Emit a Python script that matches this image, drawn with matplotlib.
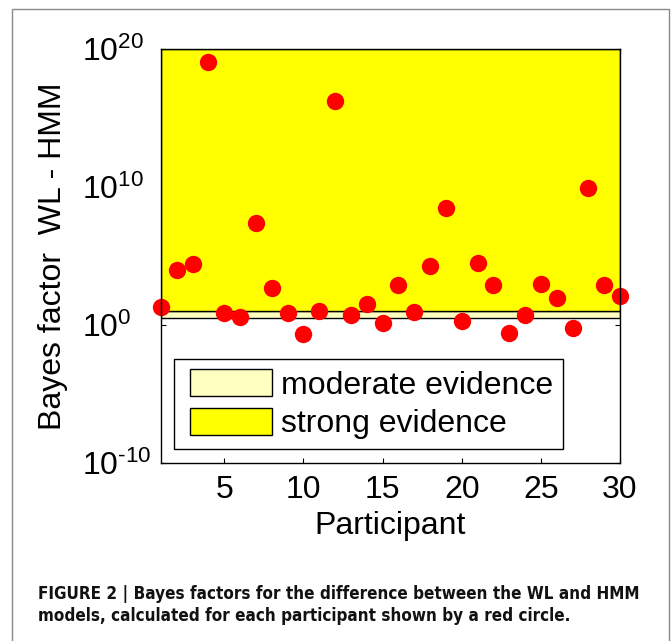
import numpy as np
import matplotlib
matplotlib.use("Agg")
import matplotlib.pyplot as plt
from matplotlib.patches import Patch, Rectangle
from matplotlib.legend_handler import HandlerPatch
from matplotlib import font_manager

# values (Bayes factor per participant)
participants = list(range(1, 31))
bayes_factor = [2.0e1, 1.0e4, 2.5e4, 1.1e19, 7.6, 3.4, 2.5e7, 4.5e2, 7.6, 0.23,
                10.5, 1.8e16, 4.8, 30.0, 1.4, 8.0e2, 8.9, 1.9e4, 2.8e8, 1.95,
                3.2e4, 7.1e2, 0.26, 5.1, 8.7e2, 93.0, 0.63, 7.9e9, 7.9e2, 1.26e2]

moderate_range = (3.0, 10.0)
strong_range = (10.0, 1e20)
yticks = [1e-10, 1e0, 1e10, 1e20]
ytick_labels = ["$10^{\u201010}$", r"$10^{0}$", r"$10^{10}$", r"$10^{20}$"]
xticks = [5, 10, 15, 20, 25, 30]
legend_labels = ["moderate evidence", "strong evidence"]
caption = ("FIGURE 2 | Bayes factors for the difference between the WL and HMM\n"
           "models, calculated for each participant shown by a red circle.")

# look for a condensed bold face for the caption
cap_font = None
for f in font_manager.fontManager.ttflist:
    nm = f.name.lower()
    if ("narrow" in nm or "condensed" in nm or "condensed" in str(f.stretch)) \
            and f.weight in ("bold", 700):
        cap_font = font_manager.FontProperties(fname=f.fname)
        break
if cap_font is None:
    cap_font = font_manager.FontProperties(family="Liberation Sans", weight="bold")

plt.rcParams["font.family"] = ["Liberation Sans", "DejaVu Sans"]
plt.rcParams["mathtext.fontset"] = "custom"
plt.rcParams["mathtext.rm"] = "Liberation Sans"
plt.rcParams["mathtext.it"] = "Liberation Sans"
plt.rcParams["mathtext.bf"] = "Liberation Sans"

fig = plt.figure(figsize=(6.71, 6.41), dpi=100)

# light outer frame like the journal figure box
fig.patches.append(Rectangle((12 / 671, -0.02), 657 / 671, 1 - 9 / 641 + 0.02,
                             transform=fig.transFigure, fill=False,
                             edgecolor="#8a8a8a", lw=1.0))

ax = fig.add_axes([161 / 671, 1 - 462.7 / 641, 459 / 671, 413.7 / 641])
ax.set_yscale("log")

ax.axhspan(*moderate_range, facecolor="#ffffc0", edgecolor="black", lw=1.0, zorder=1)
ax.axhspan(*strong_range, facecolor="#ffff00", edgecolor="black", lw=1.0, zorder=1)

ax.plot(participants, bayes_factor, "o", color="#ff0000", markersize=12.5,
        markeredgewidth=0, clip_on=False, zorder=5)

ax.set_xlim(1, 30)
ax.set_ylim(1e-10, 1e20)
ax.set_axisbelow(True)

ax.set_xticks(xticks)
ax.set_xticklabels([str(t) for t in xticks])
ax.set_yticks(yticks)
ax.set_yticklabels(ytick_labels)
ax.yaxis.set_minor_locator(matplotlib.ticker.NullLocator())
ax.tick_params(direction="in", length=3.5, width=0.8, top=True, right=True,
               labelsize=23)
ax.tick_params(axis="x", pad=9)
ax.tick_params(axis="y", pad=57)
for lab in ax.get_yticklabels():
    lab.set_horizontalalignment("left")

for sp in ax.spines.values():
    sp.set_linewidth(1.0)
    sp.set_zorder(6)

ax.set_xlabel("Participant", fontsize=23, labelpad=4)
ax.set_ylabel("Bayes factor  WL - HMM", fontsize=23, labelpad=10)

handles = [Patch(facecolor="#ffffc0", edgecolor="black", lw=1.0),
           Patch(facecolor="#ffff00", edgecolor="black", lw=1.0)]
leg = ax.legend(handles, legend_labels, loc="lower left",
                bbox_to_anchor=(13 / 459, 13.7 / 413.7), borderaxespad=0,
                fontsize=23, frameon=True, fancybox=False, framealpha=1,
                edgecolor="black", handlelength=2.77, handleheight=0.95,
                handletextpad=0.28, labelspacing=0.22, borderpad=0.3,
                handler_map={Patch: HandlerPatch(xpad=0.2)})
leg.get_frame().set_linewidth(1.0)
leg.set_zorder(7)

cap = fig.text(38 / 671, 1 - 585 / 641, caption, ha="left", va="top",
               fontproperties=cap_font, fontsize=14, linespacing=1.3,
               color="#111111")
# fit the caption's first line to the width it has in the figure
fig.canvas.draw()
w = cap.get_window_extent(fig.canvas.get_renderer()).width
cap.set_fontsize(14 * 605 / w)

fig.savefig("out.png", dpi=100)
